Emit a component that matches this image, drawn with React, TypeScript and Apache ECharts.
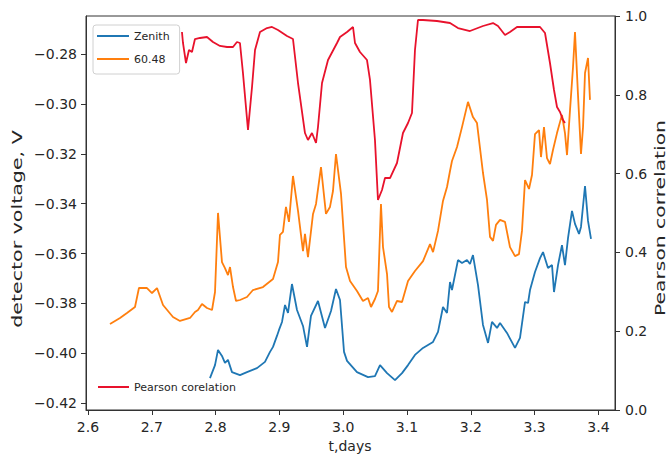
import React, { useEffect, useRef } from "react";
import * as echarts from "echarts";

// ---- data ----
const xTicks = [2.6, 2.7, 2.8, 2.9, 3.0, 3.1, 3.2, 3.3, 3.4];
const leftTicks = [-0.42, -0.4, -0.38, -0.36, -0.34, -0.32, -0.3, -0.28];
const rightTicks = [0, 0.2, 0.4, 0.6, 0.8, 1.0];

const zenithT = [
  2.7912, 2.7991, 2.8038, 2.81, 2.8147, 2.8194, 2.8257, 2.8382, 2.8492, 2.8649,
  2.8774, 2.8853, 2.89, 2.8962, 2.8994, 2.9041, 2.9088, 2.9135, 2.9197, 2.9276,
  2.937, 2.9433, 2.9495, 2.9605, 2.9715, 2.9809, 2.9887, 2.995, 3.0013, 3.006,
  3.0216, 3.0389, 3.0498, 3.0577, 3.0687, 3.0812, 3.0922, 3.1016, 3.1125, 3.1251,
  3.1408, 3.1486, 3.1564, 3.1627, 3.1674, 3.1705, 3.1799, 3.1862, 3.194, 3.1987,
  3.2034, 3.2113, 3.2191, 3.227, 3.2332, 3.2411, 3.2458, 3.2567, 3.2693, 3.2771,
  3.285, 3.2897, 3.2928, 3.3006, 3.3085, 3.3132, 3.321, 3.3273, 3.3304, 3.3367,
  3.3429, 3.3476, 3.3524, 3.3586, 3.3633, 3.3696, 3.3727, 3.379, 3.3837, 3.3884,
];
const zenithV = [
  -0.4099, -0.4047, -0.3986, -0.401, -0.4038, -0.4026, -0.4075, -0.4087, -0.4075, -0.4059,
  -0.4034, -0.3994, -0.3974, -0.393, -0.3906, -0.3874, -0.3806, -0.3838, -0.3722, -0.3826,
  -0.389, -0.3974, -0.385, -0.379, -0.3898, -0.383, -0.3742, -0.3786, -0.3994, -0.403,
  -0.4075, -0.4095, -0.4091, -0.4047, -0.4079, -0.4107, -0.4079, -0.4047, -0.4006, -0.3978,
  -0.3954, -0.3914, -0.3814, -0.3838, -0.3714, -0.3746, -0.3626, -0.3638, -0.3626, -0.3642,
  -0.3606, -0.3726, -0.3886, -0.3958, -0.3874, -0.3898, -0.3878, -0.3918, -0.3978, -0.3938,
  -0.3794, -0.3798, -0.3746, -0.3674, -0.3618, -0.3594, -0.3658, -0.3646, -0.3754, -0.3646,
  -0.3566, -0.3646, -0.3537, -0.3429, -0.3481, -0.3521, -0.3493, -0.3329, -0.3469, -0.3541,
];

const orangeT = [
  2.6345, 2.6502, 2.6611, 2.6737, 2.6799, 2.6925, 2.7003, 2.7082, 2.7176, 2.7332,
  2.7442, 2.7599, 2.7677, 2.7724, 2.7787, 2.7865, 2.7944, 2.7991, 2.8038, 2.81,
  2.8147, 2.8194, 2.8226, 2.8273, 2.832, 2.8382, 2.8492, 2.8586, 2.8743, 2.89,
  2.8978, 2.9009, 2.9056, 2.9103, 2.915, 2.9213, 2.9292, 2.937, 2.9401, 2.9448,
  2.9527, 2.9574, 2.9652, 2.973, 2.9793, 2.984, 2.9887, 2.9966, 3.0044, 3.0107,
  3.0216, 3.031, 3.0389, 3.0436, 3.0498, 3.0545, 3.0592, 3.0624, 3.0687, 3.0718,
  3.0765, 3.0843, 3.0922, 3.1016, 3.1125, 3.1251, 3.1361, 3.1408, 3.1486, 3.1564,
  3.1627, 3.1674, 3.1705, 3.1784, 3.1862, 3.1956, 3.2034, 3.2097, 3.2191, 3.2254,
  3.2301, 3.2348, 3.2395, 3.2458, 3.2536, 3.2614, 3.2693, 3.2755, 3.2802, 3.285,
  3.2912, 3.2959, 3.3006, 3.3069, 3.31, 3.3147, 3.3194, 3.3241, 3.3288, 3.3351,
  3.3429, 3.3476, 3.3508, 3.3555, 3.3602, 3.3633, 3.368, 3.3727, 3.3759, 3.379,
  3.3837, 3.3868,
];
const orangeV = [
  -0.3882, -0.3858, -0.3838, -0.3814, -0.3738, -0.3738, -0.3758, -0.3738, -0.3806, -0.3854,
  -0.387, -0.3858, -0.3834, -0.3826, -0.3802, -0.3818, -0.3826, -0.3754, -0.3437, -0.3634,
  -0.3658, -0.3686, -0.3654, -0.3734, -0.379, -0.3786, -0.3774, -0.3746, -0.3734, -0.3702,
  -0.3634, -0.3525, -0.3513, -0.3413, -0.3473, -0.3289, -0.3429, -0.359, -0.3521, -0.3614,
  -0.3441, -0.3401, -0.3253, -0.3441, -0.3413, -0.3349, -0.3201, -0.3361, -0.3654, -0.371,
  -0.375, -0.379, -0.3778, -0.3814, -0.3782, -0.375, -0.3401, -0.3574, -0.3682, -0.3814,
  -0.3834, -0.379, -0.3794, -0.371, -0.367, -0.363, -0.3562, -0.3594, -0.3509, -0.3389,
  -0.3333, -0.3269, -0.3229, -0.3173, -0.3093, -0.2992, -0.3053, -0.3077, -0.3277, -0.3385,
  -0.3533, -0.3549, -0.3485, -0.3465, -0.3473, -0.3574, -0.361, -0.3602, -0.3509, -0.3305,
  -0.3341, -0.3285, -0.3121, -0.3105, -0.3213, -0.3093, -0.3217, -0.3241, -0.3185, -0.3117,
  -0.3044, -0.3117, -0.3205, -0.3024, -0.2852, -0.2712, -0.2964, -0.3201, -0.3093, -0.2876,
  -0.2816, -0.2984,
];

const pearsonT = [
  2.7473, 2.7489, 2.7536, 2.7583, 2.763, 2.7677, 2.7755, 2.7865, 2.7959, 2.8069,
  2.8179, 2.8273, 2.8335, 2.8382, 2.8429, 2.8508, 2.8571, 2.8618, 2.8696, 2.8806,
  2.8884, 2.8978, 2.9119, 2.9213, 2.9292, 2.9401, 2.9448, 2.9511, 2.9574, 2.9605,
  2.9668, 2.9762, 2.9903, 2.995, 3.006, 3.0154, 3.0185, 3.0263, 3.0373, 3.042,
  3.0498, 3.0545, 3.0608, 3.0655, 3.0734, 3.0843, 3.0937, 3.1016, 3.1078, 3.1125,
  3.1172, 3.1251, 3.147, 3.1674, 3.1799, 3.1987, 3.2191, 3.2348, 3.2426, 3.2536,
  3.2614, 3.2724, 3.2818, 3.3085, 3.3163, 3.3241, 3.3304, 3.3351, 3.3398, 3.3445,
  3.3476,
];
const pearsonP = [
  0.9594, 0.9315, 0.8807, 0.9137, 0.9086, 0.9416, 0.9442, 0.9467, 0.934, 0.9239,
  0.9213, 0.9213, 0.934, 0.9315, 0.8553, 0.7107, 0.8198, 0.9137, 0.9594, 0.9695,
  0.9721, 0.9645, 0.9492, 0.9416, 0.8299, 0.703, 0.6853, 0.703, 0.6777, 0.7183,
  0.8299, 0.8883, 0.9315, 0.9467, 0.9594, 0.9721, 0.9315, 0.9086, 0.8883, 0.8376,
  0.6853, 0.533, 0.5584, 0.5888, 0.5888, 0.6269, 0.703, 0.7284, 0.7538, 0.9137,
  0.9898, 0.9898, 0.9873, 0.9822, 0.9695, 0.9619, 0.9746, 0.9822, 0.9746, 0.9518,
  0.9594, 0.9721, 0.9721, 0.9721, 0.9569, 0.8807, 0.8122, 0.769, 0.7563, 0.736,
  0.7284,
];

const FONT = "DejaVu Sans";
const TXT = "#262626";
const AX = "#333333";

const minus = (v: number, d: number) =>
  (v < -1e-9 ? "\u2212" : "") + Math.abs(v).toFixed(d);

export default function App() {
  const ref = useRef<HTMLDivElement>(null);
  useEffect(() => {
    if (!ref.current) return;
    const chart = echarts.init(ref.current, null, { renderer: "svg" });
    const pair = (t: number[], v: number[]) => t.map((x, i) => [x, v[i]]);
    const axisCommon = {
      axisLine: { show: true, lineStyle: { color: AX, width: 1 } },
      axisTick: { show: true, inside: false, length: 5, lineStyle: { color: AX } },
      splitLine: { show: false },
    };
    chart.setOption({
      animation: false,
      backgroundColor: "#ffffff",
      grid: {
        left: 86,
        right: 53,
        top: 16,
        bottom: 45,
        show: true,
        borderColor: AX,
        borderWidth: 1,
        backgroundColor: "transparent",
      },
      xAxis: {
        type: "value",
        min: 2.5969,
        max: 3.426,
        ...axisCommon,
        axisTick: { ...axisCommon.axisTick, customValues: xTicks },
        axisLabel: {
          customValues: xTicks,
          formatter: (v: number) => v.toFixed(1),
          fontFamily: FONT,
          fontSize: 14,
          color: TXT,
          margin: 10,
        },
      },
      yAxis: [
        {
          type: "value",
          position: "left",
          min: -0.42269,
          max: -0.26477,
          ...axisCommon,
          axisTick: { ...axisCommon.axisTick, customValues: leftTicks },
          axisLabel: {
            customValues: leftTicks,
            formatter: (v: number) => minus(v, 2),
            fontFamily: FONT,
            fontSize: 14,
            color: TXT,
            margin: 9,
          },
        },
        {
          type: "value",
          position: "right",
          min: 0,
          max: 1,
          ...axisCommon,
          axisTick: { ...axisCommon.axisTick, customValues: rightTicks },
          axisLabel: {
            customValues: rightTicks,
            formatter: (v: number) => v.toFixed(1),
            fontFamily: FONT,
            fontSize: 14,
            color: TXT,
            margin: 10,
          },
        },
      ],
      legend: [
        {
          data: ["Zenith", "60.48"],
          orient: "vertical",
          left: 93,
          top: 25,
          padding: [4, 10, 8, 4],
          itemGap: 9,
          itemWidth: 32,
          itemHeight: 2,
          icon: "rect",
          borderColor: "#d0d0d0",
          borderWidth: 1,
          borderRadius: 3,
          backgroundColor: "rgba(255,255,255,0.85)",
          textStyle: { fontFamily: FONT, fontSize: 11, color: TXT, lineHeight: 14 },
        },
        {
          data: ["Pearson corelation"],
          orient: "vertical",
          left: 94,
          top: 376,
          padding: [4, 6, 4, 4],
          itemWidth: 31,
          itemHeight: 2,
          icon: "rect",
          textStyle: { fontFamily: FONT, fontSize: 11, color: TXT, lineHeight: 14 },
        },
      ],
      series: [
        {
          name: "Zenith",
          type: "line",
          xAxisIndex: 0,
          yAxisIndex: 0,
          data: pair(zenithT, zenithV),
          showSymbol: false,
          symbol: "none",
          color: "#1f77b4",
          lineStyle: { width: 1.8, color: "#1f77b4" },
        },
        {
          name: "60.48",
          type: "line",
          xAxisIndex: 0,
          yAxisIndex: 0,
          data: pair(orangeT, orangeV),
          showSymbol: false,
          symbol: "none",
          color: "#ff7f0e",
          lineStyle: { width: 1.8, color: "#ff7f0e" },
        },
        {
          name: "Pearson corelation",
          type: "line",
          xAxisIndex: 0,
          yAxisIndex: 1,
          data: pair(pearsonT, pearsonP),
          showSymbol: false,
          symbol: "none",
          color: "#e8122c",
          lineStyle: { width: 1.8, color: "#e8122c" },
        },
      ],
      graphic: [
        {
          type: "text",
          x: 17,
          y: 229,
          rotation: Math.PI / 2,
          scaleX: 1.47,
          style: {
            text: "detector voltage, V",
            fontFamily: FONT,
            fontSize: 14,
            fill: TXT,
            align: "center",
            verticalAlign: "middle",
          },
        },
        {
          type: "text",
          x: 660,
          y: 218,
          rotation: Math.PI / 2,
          scaleX: 1.45,
          style: {
            text: "Pearson correlation",
            fontFamily: FONT,
            fontSize: 14,
            fill: TXT,
            align: "center",
            verticalAlign: "middle",
          },
        },
        {
          type: "text",
          x: 350,
          y: 446,
          style: {
            text: "t,days",
            fontFamily: FONT,
            fontSize: 14,
            fill: TXT,
            align: "center",
            verticalAlign: "middle",
          },
        },
      ],
    });
    return () => chart.dispose();
  }, []);
  return (
    <div
      ref={ref}
      style={{ position: "absolute", left: 0, top: 0, width: 668, height: 455, background: "#fff" }}
    />
  );
}
